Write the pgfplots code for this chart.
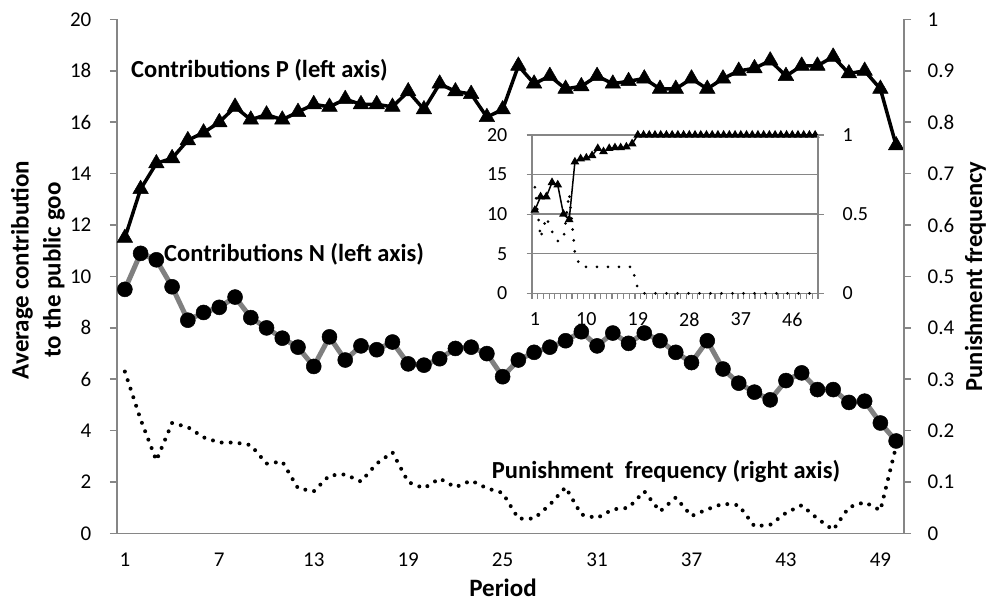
\documentclass[border=0pt]{standalone}
\usepackage{fontspec}
\setmainfont{Carlito}
\usepackage{pgfplots}
\pgfplotsset{compat=1.18}
\definecolor{axgray}{RGB}{134,134,134}
\definecolor{ngray}{RGB}{128,128,128}
\begin{document}
\begin{tikzpicture}[x=1pt,y=1pt]
\path[use as bounding box] (-117pt,-70.5pt) rectangle (870pt,533.5pt);
\pgfplotsset{
 mainax/.style={
  at={(0pt,0pt)}, anchor=south west,
  width=787pt, height=514pt, scale only axis,
  xmin=0.5, xmax=50.5, ymin=0, ymax=20,
  clip=false,
  axis line style={draw=axgray, line width=1.6pt},
  tick style={draw=axgray, line width=1.6pt},
  major tick length=7pt, tick align=outside,
  ticklabel style={font=\fontsize{21}{25}\selectfont, inner sep=0pt},
 },
 insetax/.style={
  at={(415pt,240.2pt)}, anchor=south west,
  width=286pt, height=158.3pt, scale only axis,
  xmin=0.5, xmax=50.5,
  clip=false,
  axis line style={draw=axgray, line width=1.3pt},
  tick style={draw=axgray, line width=1.2pt},
  major tick length=5.5pt, tick align=outside,
  ticklabel style={font=\fontsize{20}{24}\selectfont, inner sep=0pt},
 }
}
% ---------- main, left axis ----------
\begin{axis}[mainax, axis x line*=bottom, axis y line*=left,
  xtick={1,7,13,19,25,31,37,43,49},
  xticklabels={1,7,13,19,25,31,37,43,49},
  x tick style={draw=none},
  xticklabel style={anchor=north, yshift=-12pt},
  ytick={0,2,4,6,8,10,12,14,16,18,20},
  yticklabels={0,2,4,6,8,10,12,14,16,18,20},
  yticklabel style={anchor=east, xshift=-18.5pt},
]
\addplot[ngray, line width=5pt, line join=round, mark=*, mark size=7.5pt,
  mark options={draw=black, fill=black, line width=0.5pt}] coordinates {
(1,9.5)(2,10.9)(3,10.65)(4,9.6)(5,8.3)(6,8.6)(7,8.8)(8,9.2)(9,8.4)(10,8.0)
(11,7.6)(12,7.25)(13,6.5)(14,7.65)(15,6.75)(16,7.3)(17,7.15)(18,7.45)(19,6.6)(20,6.55)
(21,6.8)(22,7.2)(23,7.25)(24,7.0)(25,6.1)(26,6.75)(27,7.05)(28,7.25)(29,7.5)(30,7.85)
(31,7.3)(32,7.8)(33,7.4)(34,7.8)(35,7.5)(36,7.05)(37,6.65)(38,7.5)(39,6.4)(40,5.85)
(41,5.5)(42,5.2)(43,5.95)(44,6.25)(45,5.6)(46,5.6)(47,5.1)(48,5.15)(49,4.3)(50,3.6)
};
\addplot[black, line width=3.5pt, line join=round, mark=triangle*, mark size=9pt,
  mark options={solid, fill=black, line width=0.5pt}] coordinates {
(1,11.5)(2,13.4)(3,14.4)(4,14.6)(5,15.3)(6,15.6)(7,16.0)(8,16.6)(9,16.1)(10,16.3)
(11,16.1)(12,16.4)(13,16.7)(14,16.6)(15,16.9)(16,16.7)(17,16.7)(18,16.6)(19,17.2)(20,16.5)
(21,17.5)(22,17.2)(23,17.1)(24,16.2)(25,16.5)(26,18.2)(27,17.5)(28,17.8)(29,17.3)(30,17.4)
(31,17.8)(32,17.5)(33,17.6)(34,17.7)(35,17.3)(36,17.3)(37,17.7)(38,17.3)(39,17.7)(40,18.0)
(41,18.1)(42,18.4)(43,17.8)(44,18.2)(45,18.2)(46,18.55)(47,17.9)(48,18.0)(49,17.3)(50,15.1)
};
\end{axis}
% ---------- main, right axis ----------
\begin{axis}[mainax, axis x line=none, axis y line*=right,
  ymin=0, ymax=1,
  ytick={0,0.1,0.2,0.3,0.4,0.5,0.6,0.7,0.8,0.9,1},
  yticklabels={0,0.1,0.2,0.3,0.4,0.5,0.6,0.7,0.8,0.9,1},
  yticklabel style={anchor=west, xshift=16.5pt},
]
\addplot[black, line width=4pt, line cap=round, dash pattern=on 0pt off 9pt] coordinates {
(1,0.315)(2,0.222)(3,0.142)(4,0.215)(5,0.207)(6,0.187)(7,0.177)(8,0.177)(9,0.172)(10,0.136)
(11,0.14)(12,0.088)(13,0.082)(14,0.113)(15,0.115)(16,0.101)(17,0.136)(18,0.158)(19,0.10)(20,0.088)
(21,0.107)(22,0.09)(23,0.103)(24,0.088)(25,0.079)(26,0.029)(27,0.029)(28,0.056)(29,0.09)(30,0.037)
(31,0.03)(32,0.047)(33,0.05)(34,0.082)(35,0.043)(36,0.07)(37,0.034)(38,0.047)(39,0.058)(40,0.055)
(41,0.014)(42,0.017)(43,0.04)(44,0.055)(45,0.029)(46,0.007)(47,0.051)(48,0.061)(49,0.045)(50,0.17)
};
\end{axis}
% ---------- titles and annotations ----------
\node[rotate=90, align=center, font=\fontsize{25}{32}\selectfont\bfseries] at (-79pt,263.5pt)
  {Average contribution\\to the public goo};
\node[rotate=90, anchor=base, inner sep=0pt, font=\fontsize{24.5}{30}\selectfont\bfseries] at (865pt,257pt) {Punishment frequency};
\node[anchor=base, inner sep=0pt, font=\fontsize{25}{30}\selectfont\bfseries] at (386pt,-63.5pt) {Period};
\node[anchor=base west, inner sep=0pt, font=\fontsize{24.5}{29}\selectfont\bfseries] at (14pt,455.5pt)
  {Contributions P (left axis)};
\node[anchor=base west, inner sep=0pt, font=\fontsize{24.5}{29}\selectfont\bfseries] at (47pt,271.5pt)
  {Contributions N (left axis)};
\node[anchor=base west, inner sep=0pt, font=\fontsize{24.5}{29}\selectfont\bfseries] at (374.7pt,55pt)
  {Punishment\ \ frequency (right axis)};
% ---------- inset, left axis ----------
\begin{axis}[insetax, axis x line*=bottom, axis y line*=left,
  axis background/.style={fill=white},
  ymin=0, ymax=20,
  ytick={0,5,10,15,20}, yticklabels={0,5,10,15,20},
  yticklabel style={anchor=east, xshift=-19pt},
  ymajorgrids, grid style={draw=axgray, line width=1.3pt},
  xtick={0.5,1.5,...,50.5}, xticklabels={},
  extra x ticks={1,10,19,28,37,46},
  extra x tick labels={1,10,19,28,37,46},
  extra x tick style={tick style={draw=none}, xticklabel style={anchor=north, yshift=-14pt}},
]
\addplot[black, line width=1.5pt, mark=triangle*, mark size=3.6pt,
  mark options={solid, fill=black}] coordinates {
(1,10.5)(2,12.2)(3,12.2)(4,14.0)(5,13.7)(6,10.0)(7,9.3)(8,16.6)(9,17.0)(10,17.1)
(11,17.4)(12,18.3)(13,17.9)(14,18.3)(15,18.4)(16,18.4)(17,18.5)(18,18.9)(19,20)(20,20)
(21,20)(22,20)(23,20)(24,20)(25,20)(26,20)(27,20)(28,20)(29,20)(30,20)
(31,20)(32,20)(33,20)(34,20)(35,20)(36,20)(37,20)(38,20)(39,20)(40,20)
(41,20)(42,20)(43,20)(44,20)(45,20)(46,20)(47,20)(48,20)(49,20)(50,20)
};
\end{axis}
% ---------- inset, right axis ----------
\begin{axis}[insetax, axis x line=none, axis y line*=right,
  ymin=0, ymax=1,
  ytick={0,0.5,1}, yticklabels={0,0.5,1},
  yticklabel style={anchor=west, xshift=19pt},
]
\addplot[black, line width=3pt, line cap=round, dash pattern=on 0pt off 11pt] coordinates {
(1,0.67)(2,0.35)(3,0.48)(4,0.39)(5,0.33)(6,0.34)(7,0.63)(8,0.25)(9,0.167)(10,0.167)
(11,0.167)(12,0.167)(13,0.167)(14,0.167)(15,0.167)(16,0.167)(17,0.167)(18,0.167)(19,0.03)(20,0)
(21,0)(22,0)(23,0)(24,0)(25,0)(26,0)(27,0)(28,0)(29,0)(30,0)
(31,0)(32,0)(33,0)(34,0)(35,0)(36,0)(37,0)(38,0)(39,0)(40,0)
(41,0)(42,0)(43,0)(44,0)(45,0)(46,0)(47,0)(48,0)(49,0)(50,0)
};
\end{axis}
\end{tikzpicture}
\end{document}
